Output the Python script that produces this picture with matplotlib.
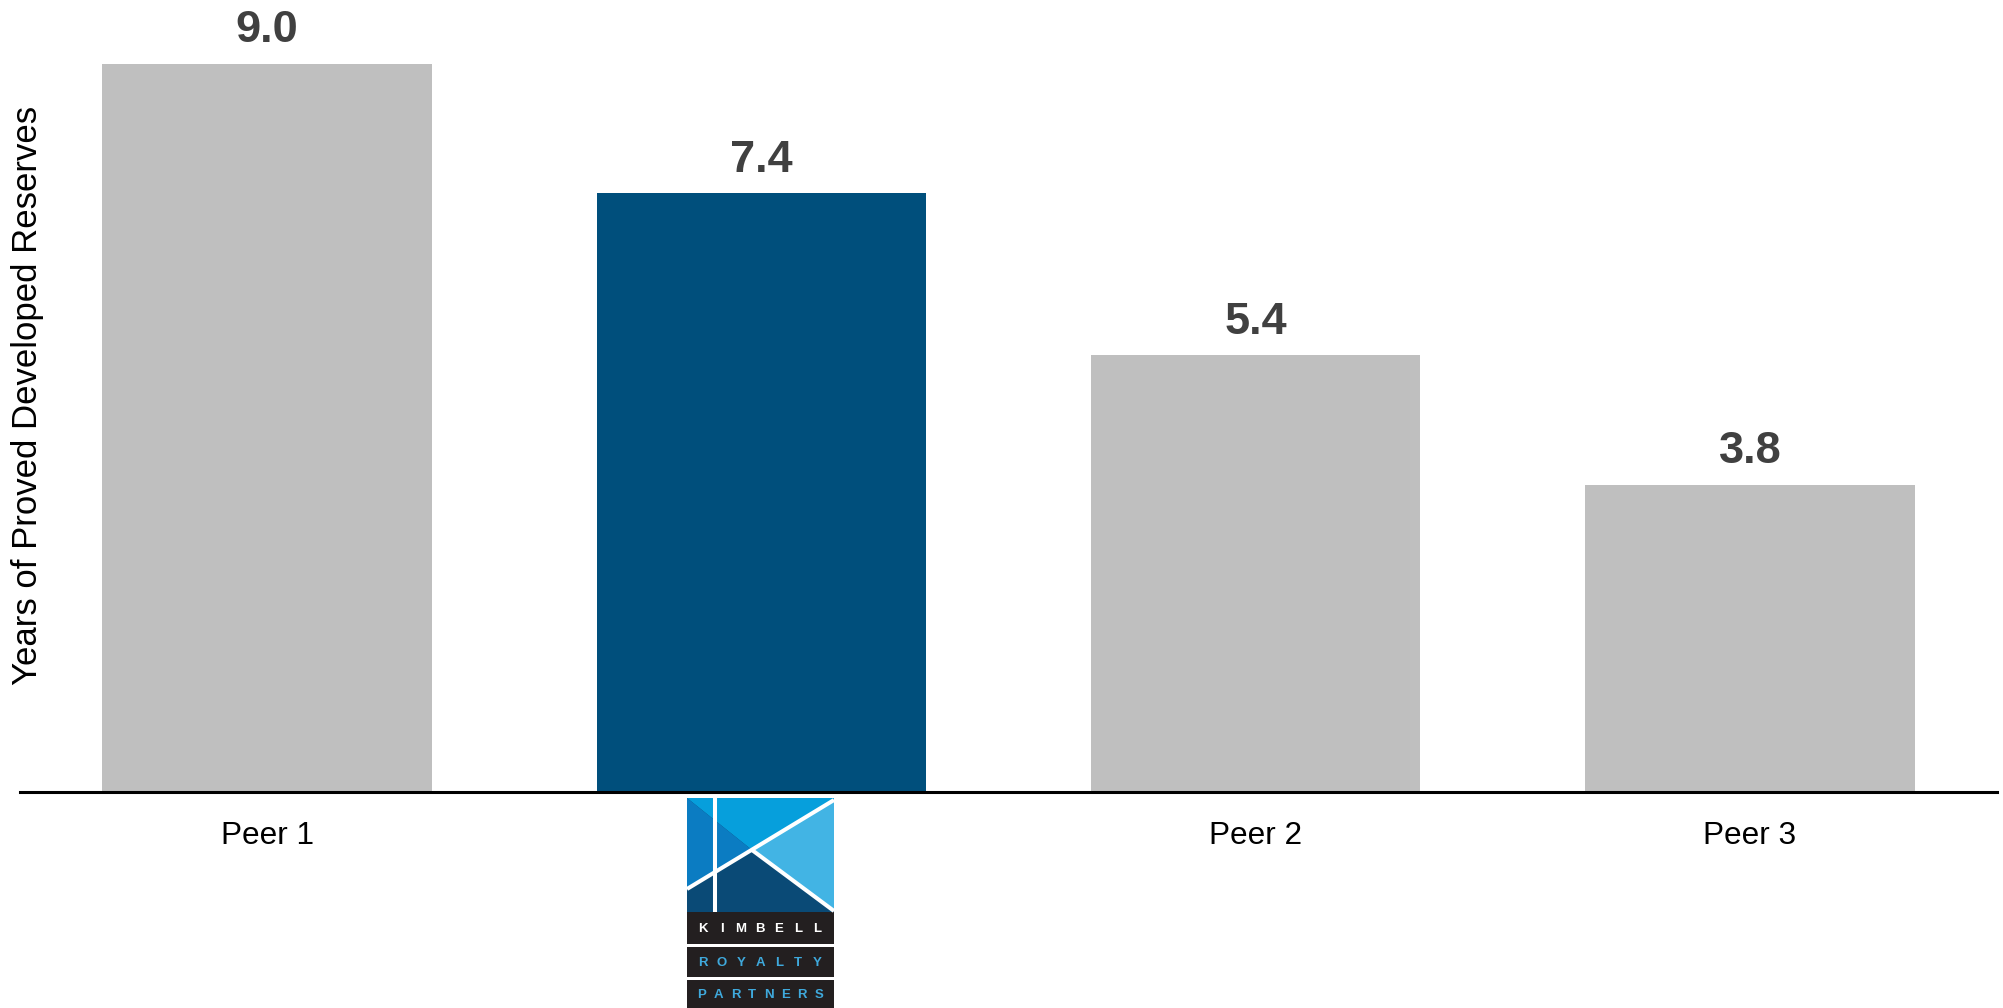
import matplotlib
matplotlib.use("Agg")
import matplotlib.pyplot as plt
from matplotlib.patches import Polygon, Rectangle

# Data
categories = ["Peer 1", "Kimbell", "Peer 2", "Peer 3"]
values = [9.0, 7.4, 5.4, 3.8]
tick_labels = ["Peer 1", "", "Peer 2", "Peer 3"]
value_labels = ["9.0", "7.4", "5.4", "3.8"]
ylabel = "Years of Proved Developed Reserves"

GRAY = "#bfbfbf"
BLUE = "#004f7c"
colors = [GRAY, BLUE, GRAY, GRAY]

plt.rcParams["font.family"] = ["Liberation Sans", "DejaVu Sans"]

W, H = 2003, 1008
fig = plt.figure(figsize=(W / 100, H / 100), dpi=100)
fig.patch.set_facecolor("white")

ax = fig.add_axes([20 / W, (H - 792) / H, (1997 - 20) / W, 792 / H])
x = list(range(len(categories)))
bars = ax.bar(x, values, width=0.667, color=colors, zorder=2)

ax.set_xlim(-0.5, 3.5)
ax.set_ylim(0, 9.79)
for s in ["top", "right", "left"]:
    ax.spines[s].set_visible(False)
ax.spines["bottom"].set_linewidth(2.2)
ax.spines["bottom"].set_color("black")
ax.spines["bottom"].set_zorder(3)
ax.set_yticks([])
ax.set_xticks(x)
ax.set_xticklabels(tick_labels, fontsize=22.7, color="black")
ax.tick_params(axis="x", length=0, pad=21)

for bar, lab in zip(bars, value_labels):
    ax.annotate(lab, (bar.get_x() + bar.get_width() / 2, bar.get_height()),
                xytext=(0, 9), textcoords="offset points",
                ha="center", va="bottom", fontsize=32.5,
                fontweight="bold", color="#404040")

fig.text(28 / W, 1 - 395 / H, ylabel, rotation=90, ha="center",
         va="center", fontsize=25, color="black")

# Company logo below the second bar
lx0, ly0, lw, lh = 687, 798, 147, 210
lax = fig.add_axes([lx0 / W, (H - ly0 - lh) / H, lw / W, lh / H])
lax.set_xlim(0, lw)
lax.set_ylim(lh, 0)
lax.axis("off")

DARK = "#0a4a76"
BRIGHT = "#069fdc"
MED = "#0b7cc2"
LIGHT = "#42b4e4"
BAND = "#231f20"
TXTBLUE = "#3fa9dc"

lax.add_patch(Rectangle((0, 0), lw, 114, color=DARK, lw=0))
lax.add_patch(Polygon([(0, 0), (lw, 0), (lw, 2), (65, 52)], color=BRIGHT, lw=0))
lax.add_patch(Polygon([(0, 0), (65, 52), (0, 91)], color=MED, lw=0))
lax.add_patch(Polygon([(65, 52), (lw, 2), (lw, 113)], color=LIGHT, lw=0))
lax.plot([lw, 0], [2, 91], color="white", lw=2.9, solid_capstyle="butt")
lax.plot([65, lw], [52, 113], color="white", lw=2.9, solid_capstyle="butt")
lax.plot([28, 28], [0, 114], color="white", lw=2.9, solid_capstyle="butt")

bands = [(114, 146, "KIMBELL", "white", 16, 130),
         (149, 179, "ROYALTY", TXTBLUE, 16, 130),
         (182, 210, "PARTNERS", TXTBLUE, 15, 132)]
for top, bot, word, col, u0, u1 in bands:
    lax.add_patch(Rectangle((0, top), lw, bot - top, color=BAND, lw=0))
    n = len(word)
    step = (u1 - u0) / (n - 1)
    yc = (top + bot) / 2 + 0.5
    for i, ch in enumerate(word):
        lax.text(u0 + i * step, yc, ch, ha="center", va="center",
                 fontsize=9.5, fontweight="bold", color=col)

fig.savefig("out.png", dpi=100, facecolor="white")
